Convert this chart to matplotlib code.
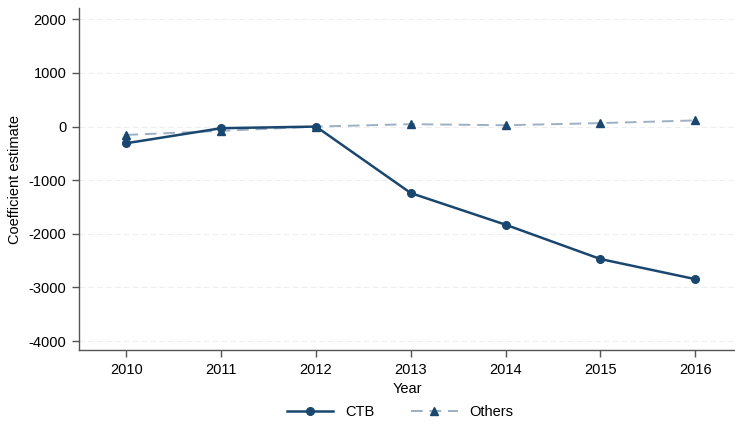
import matplotlib

matplotlib.use("Agg")
import matplotlib.pyplot as plt

plt.rcParams["font.family"] = ["Liberation Sans", "DejaVu Sans"]

years = [2010, 2011, 2012, 2013, 2014, 2015, 2016]
ctb = [-310, -30, 0, -1240, -1830, -2470, -2845]
others = [-155, -80, 0, 45, 25, 65, 115]
y_ticks = [-4000, -3000, -2000, -1000, 0, 1000, 2000]

NAVY = "#1a476f"
LIGHT = "#9db0c4"

fig = plt.figure(figsize=(7.35, 4.26), dpi=100)
ax = fig.add_axes([0.1075, 0.178, 0.8925, 0.803])

ax.plot(years, others, color=LIGHT, linestyle=(0, (6, 3.5)), linewidth=1.4,
        marker="^", markersize=5.5, markerfacecolor=NAVY, markeredgecolor=NAVY,
        label="Others", zorder=3)
ax.plot(years, ctb, color=NAVY, linewidth=1.8, marker="o", markersize=5.5,
        label="CTB", zorder=4)

ax.set_xlim(2009.5, 2016.42)
ax.set_ylim(-4170, 2210)
ax.set_xticks(years)
ax.set_yticks(y_ticks)
ax.set_yticklabels([str(v) for v in y_ticks])
ax.grid(axis="y", color="#eeeeee", linestyle=(0, (5, 3)), linewidth=0.8)
ax.set_axisbelow(True)

for side in ("top", "right"):
    ax.spines[side].set_visible(False)
for side in ("left", "bottom"):
    ax.spines[side].set_color("#555555")
    ax.spines[side].set_linewidth(1.0)
ax.tick_params(direction="out", length=5, width=1, color="#555555",
               labelsize=10.5, pad=4)

ax.set_xlabel("Year", fontsize=10.5, labelpad=4)
ax.set_ylabel("Coefficient estimate", fontsize=10.5, labelpad=5)

handles, labels = ax.get_legend_handles_labels()
fig.legend(handles[::-1], labels[::-1], loc="lower center",
           bbox_to_anchor=(400 / 735, -0.015), ncol=2, frameon=False,
           fontsize=10.5, handlelength=3.2, columnspacing=2.5)

fig.savefig("out.png", dpi=100)
